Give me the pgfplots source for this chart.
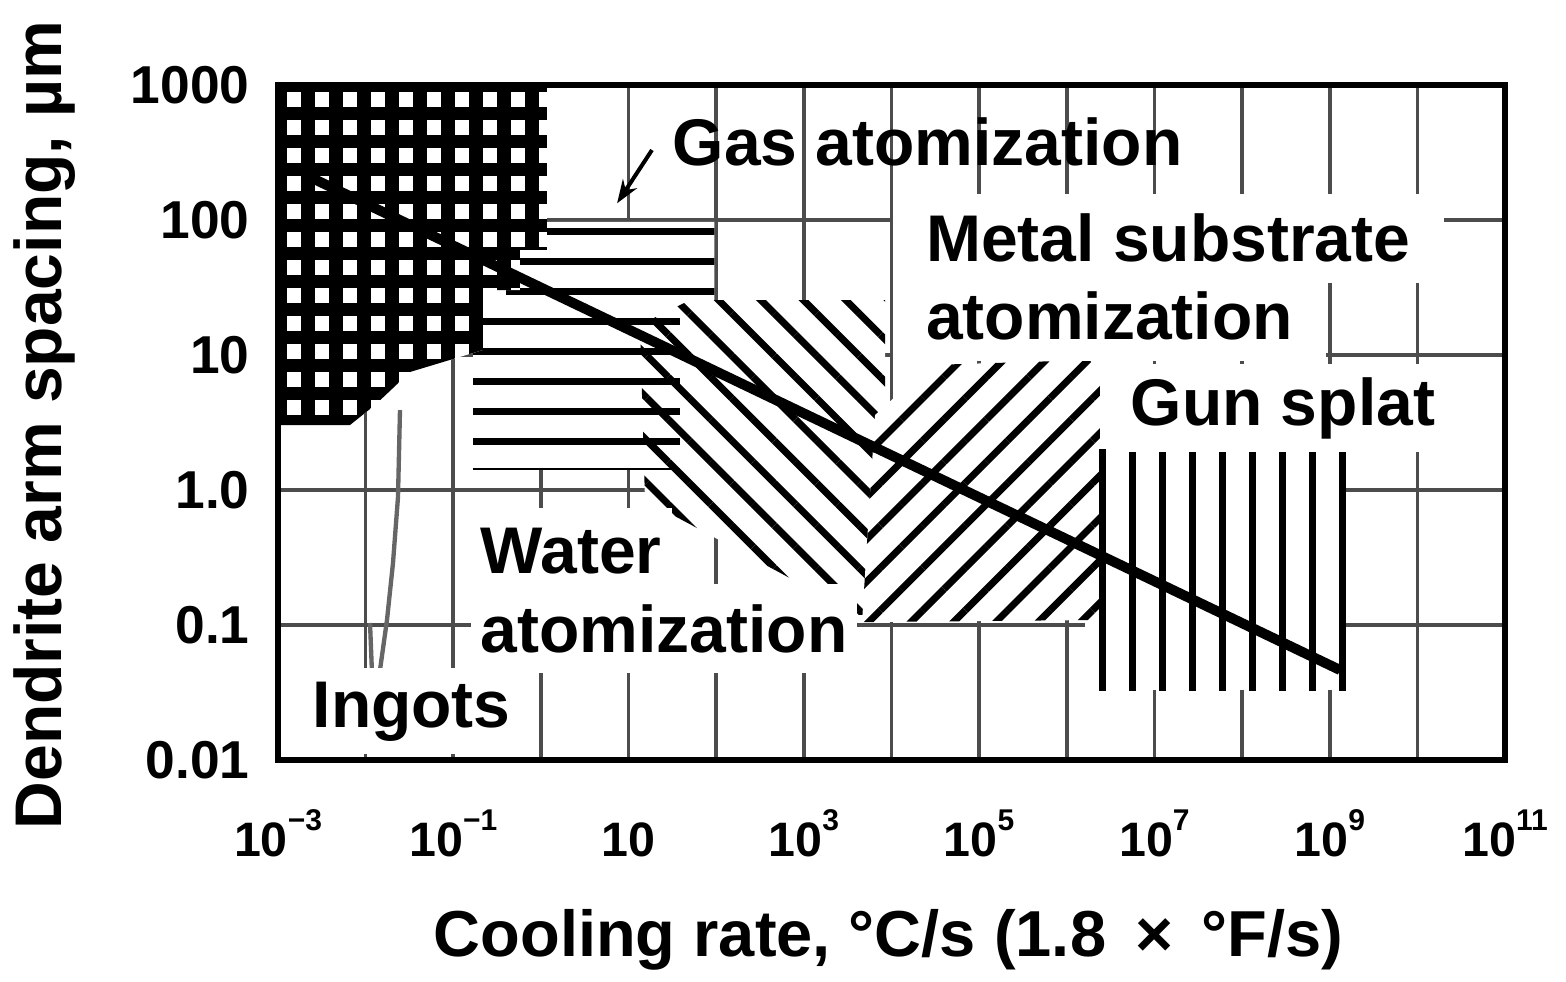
\documentclass[border=0pt]{standalone}
\usepackage{fontspec}
\setmainfont{Liberation Sans}
\usepackage{pgfplots}
\pgfplotsset{compat=1.18}
\usetikzlibrary{patterns.meta, arrows.meta}

\pgfplotsset{
  layers/mylayers/.define layer set={
    axis background,axis grid,main,axis ticks,axis lines,axis tick labels,
    axis descriptions,axis foreground
  }{/pgfplots/layers/standard},
}

\newcommand\lbl{\fontsize{19.8}{24}\selectfont\bfseries}
\newcommand\tkf{\fontsize{14.5}{17}\selectfont\bfseries}
\newcommand\tsup[1]{\raisebox{0.55em}{\fontsize{9}{10}\selectfont\bfseries #1}}

\begin{document}
\begin{tikzpicture}
\begin{axis}[
  set layers=mylayers,
  scale only axis, width=368.1pt, height=202.5pt,
  xmode=log, ymode=log, log basis x=10, log basis y=10,
  xmin=1e-3, xmax=1e11, ymin=0.01, ymax=1000,
  no markers,
  xtick={1e-3,1e-2,1e-1,1,10,100,1e3,1e4,1e5,1e6,1e7,1e8,1e9,1e10,1e11},
  xticklabels={{10\tsup{−3}},{},{10\tsup{−1}},{},{10},{},{10\tsup{3}},{},{10\tsup{5}},{},{10\tsup{7}},{},{10\tsup{9}},{},{10\tsup{11}}},
  ytick={0.01,0.1,1,10,100,1000},
  yticklabels={0.01,0.1,1.0,10,100,1000},
  xmajorgrids, ymajorgrids,
  grid style={black!70, line width=1.1pt},
  major tick length=0pt,
  axis line style={line width=1.6pt},
  xticklabel style={font=\tkf, anchor=base, yshift=-29pt},
  yticklabel style={font=\fontsize{16}{18}\selectfont\bfseries, xshift=-5pt},
  xlabel={Cooling rate, °C/s (1.8\, ×\, °F/s)},
  ylabel={Dendrite arm spacing, µm},
  xlabel style={font=\fontsize{19.5}{23}\selectfont\bfseries, at={(axis description cs:0.4976,-0.2667)}, anchor=center},
  ylabel style={font=\lbl, at={(axis description cs:-0.19,0.4963)}, anchor=center},
]

% gas + water atomization (horizontal lines)
\addplot[draw=none, fill=white, postaction={pattern={Lines[angle=0,distance=9pt,line width=2.1pt]}}]
  coordinates {(0.4,97) (95,97) (95,24.3) (38.6,24.3) (38.6,1.41) (0.168,1.41) (0.168,24.3) (0.4,24.3)} -- cycle;

% metal substrate atomization (\\\ lines)
\addplot[draw=none, fill=white, postaction={pattern={Lines[angle=-45,distance=9pt,line width=2.1pt]}}]
  coordinates {(50,25.5) (8430,25.5) (8430,0.119) (4150,0.119) (15.4,0.843) (13.5,16.7)} -- cycle;

% horizontal lines showing through the overlap
\addplot[draw=none, pattern={Lines[angle=0,distance=9pt,line width=2.1pt]}]
  coordinates {(13.5,24.3) (38.6,24.3) (38.6,1.41) (13.5,1.41)} -- cycle;

% gun splat (vertical lines)
\addplot[draw=none, fill=white, postaction={pattern={Lines[angle=90,distance=9pt,line width=2.1pt,xshift=-2.4pt]}}]
  coordinates {(1.61e6,1.98) (1.53e9,1.98) (1.53e9,0.033) (1.61e6,0.033)} -- cycle;

% /// region
\addplot[draw=none, fill=white, postaction={pattern={Lines[angle=45,distance=9pt,line width=2.1pt]}}]
  coordinates {(6490,3.59) (27500,8.43) (1.84e6,9.18) (2.39e6,6.53) (2.39e6,0.109) (4610,0.105)} -- cycle;

% gun splat lines over the overlap
\addplot[draw=none, pattern={Lines[angle=90,distance=9pt,line width=2.1pt,xshift=-2.4pt]}]
  coordinates {(1.61e6,1.98) (1.53e9,1.98) (1.53e9,0.033) (1.61e6,0.033)} -- cycle;

% ingots (crosshatch)
\addplot[draw=none, fill=white, postaction={pattern={Hatch[angle=0,distance=8.4pt,line width=4pt]}}]
  coordinates {(1e-3,1000) (1.17,1000) (1.17,60) (0.577,60) (0.577,30.3) (0.218,30.3) (0.218,10.9) (0.032,7.48) (0.0128,4.26) (0.00663,3.03) (1e-3,3.03)} -- cycle;

% ingot loop
\addplot[black!60, line width=1.3pt]
  coordinates {(0.01122,0.1035) (0.01182,0.0441) (0.01458,0.0464) (0.01753,0.1089) (0.02052,0.2879) (0.0234,0.8874) (0.02466,3.91)};

% main trend line
\addplot[black, line width=3pt] coordinates {(2.318e-3,208) (1.312e9,0.0464)};

% arrow for gas atomization
\draw[line width=1.2pt, -{Stealth[length=7pt,width=5pt]}] (axis cs:18.5,330) -- (axis cs:7.4,133);

% labels
\node[anchor=base west, font=\lbl, inner sep=0pt] at (axis cs:31.3,255) {Gas atomization};
\node[anchor=base west, font=\lbl, fill=white, inner xsep=10pt, inner ysep=6pt] at (axis cs:10140,48.86) {Metal substrate};
\node[anchor=base west, font=\lbl, fill=white, inner xsep=10pt, inner ysep=6pt] at (axis cs:10140,12.92) {atomization};
\node[anchor=base west, font=\lbl, fill=white, inner xsep=3pt, inner ysep=4pt] at (axis cs:4.05e6,3.03) {Gun splat};
\node[anchor=base west, font=\lbl, fill=white, inner xsep=3pt, inner ysep=6pt] at (axis cs:0.1552,0.2427) {Water};
\node[anchor=base west, font=\lbl, fill=white, inner xsep=3pt, inner ysep=6pt] at (axis cs:0.1552,0.0631) {atomization};
\node[anchor=base west, font=\lbl, fill=white, inner xsep=3pt, inner ysep=4pt] at (axis cs:1.879e-3,0.01756) {Ingots};

\coordinate (bbBL) at (rel axis cs:-0.22657,-0.32593);
\coordinate (bbTR) at (rel axis cs:1.04971,1.12593);
\end{axis}
\path (bbBL) rectangle (bbTR);
\end{tikzpicture}
\end{document}
